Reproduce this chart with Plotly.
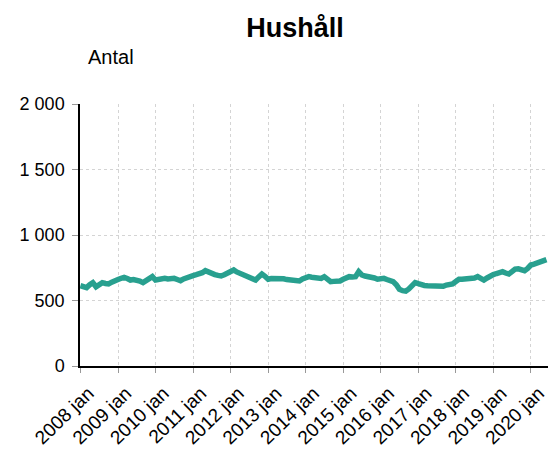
import plotly.graph_objects as go
import pandas as pd

months = pd.date_range("2008-01-01", "2020-06-01", freq="MS")
values = [
    613, 605, 598, 620, 636, 605, 615, 636, 630, 626, 640, 656,
    660, 670, 677, 668, 656, 660, 659, 648, 636, 650, 668, 682,
    656, 662, 667, 669, 664, 670, 669, 660, 651, 665, 676, 687,
    690, 697, 702, 712, 728, 714, 702, 698, 692, 687, 697, 707,
    720, 733, 718, 707, 700, 695, 680, 668, 656, 680, 702, 685,
    662, 668, 670, 665, 669, 666, 660, 656, 652, 650, 649, 665,
    677, 682, 678, 672, 670, 669, 682, 662, 644, 646, 648, 649,
    662, 675, 682, 680, 682, 720, 695, 687, 684, 682, 672, 662,
    665, 669, 660, 652, 644, 620, 585, 575, 572, 588, 615, 636,
    628, 618, 615, 613, 612, 611, 605, 601, 608, 618, 622, 626,
    645, 662, 663, 664, 663, 664, 672, 682, 670, 656, 672, 690,
    698, 706, 712, 720, 710, 702, 720, 740, 742, 735, 728, 745,
    771, 778, 784, 790, 797, 812,
]
x_tickvals = [f"{y}-01-01" for y in range(2008, 2021)]
x_ticktext = [f"{y} jan" for y in range(2008, 2021)]
y_tickvals = [0, 500, 1000, 1500, 2000]
y_ticktext = ["0", "500", "1 000", "1 500", "2 000"]

fig = go.Figure()
fig.add_trace(go.Scatter(
    x=months, y=values, mode="lines",
    line=dict(color="#28a08f", width=5.5),
    hoverinfo="skip", showlegend=False,
))

fig.update_layout(
    width=551, height=444,
    margin=dict(l=72, r=11, t=96, b=86),
    paper_bgcolor="white", plot_bgcolor="white",
    font=dict(family="Liberation Sans, Arial, sans-serif", size=18, color="#000"),
    title=dict(text="<b>Hushåll</b>", x=0.521, xanchor="center", y=0.955, yanchor="middle",
               font=dict(size=27)),
    annotations=[dict(text="Antal", xref="paper", yref="paper", x=0.013, y=1.18,
                      xanchor="left", yanchor="middle", showarrow=False,
                      font=dict(size=20))],
)
fig.update_xaxes(
    range=["2007-12-28", "2020-06-16"], automargin=False,
    tickvals=x_tickvals, ticktext=x_ticktext, tickangle=-44,
    showline=True, linecolor="black", linewidth=1.5,
    ticks="outside", ticklen=5, tickcolor="#999",
    ticklabelstandoff=2, ticklabelshift=8,
    showgrid=True, gridcolor="#d4d4d4", griddash="dot", gridwidth=1,
    zeroline=False, tickfont=dict(size=19),
)
fig.update_yaxes(
    range=[0, 2000], automargin=False,
    tickvals=y_tickvals, ticktext=y_ticktext,
    showline=True, linecolor="black", linewidth=1.5,
    ticks="outside", ticklen=6, tickcolor="#999",
    ticklabelstandoff=4,
    showgrid=True, gridcolor="#d4d4d4", griddash="dot", gridwidth=1,
    zeroline=False, tickfont=dict(size=18),
)
fig.write_html("out.html")
